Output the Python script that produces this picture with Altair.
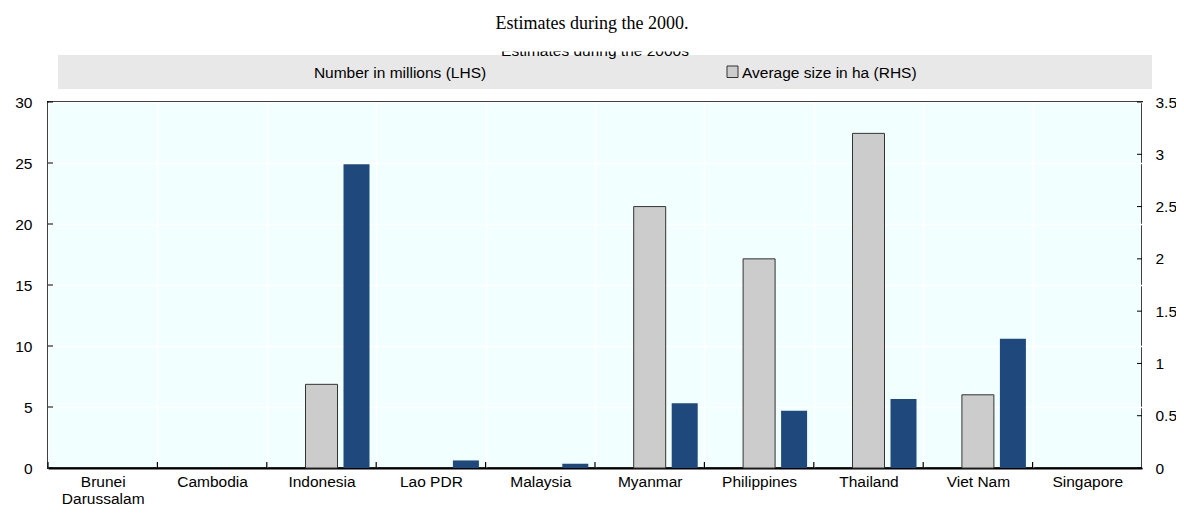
import altair as alt
import pandas as pd

countries = ["Brunei Darussalam", "Cambodia", "Indonesia", "Lao PDR", "Malaysia",
             "Myanmar", "Philippines", "Thailand", "Viet Nam", "Singapore"]
avg_size_ha = [None, None, 0.8, None, None, 2.5, 2.0, 3.2, 0.7, None]      # RHS, grey
number_mn = [None, None, 24.9, 0.62, 0.35, 5.3, 4.7, 5.65, 10.6, None]     # LHS, blue

left_ticks = [0, 5, 10, 15, 20, 25, 30]
right_ticks = [0, 0.5, 1, 1.5, 2, 2.5, 3, 3.5]

title_text = "Estimates during the 2000."
hidden_text = "Estimates during the 2000s"
legend_labels = ["Number in millions (LHS)", "Average size in ha (RHS)"]

SANS = "Liberation Sans, Arial, sans-serif"
SERIF = "Liberation Serif, Times New Roman, serif"
FS = 15.5
W, H = 1094, 366
BAND = W / len(countries)
GREY = "#CCCCCC"
BLUE = "#1F497D"

df = pd.DataFrame({"country": countries, "avg": avg_size_ha, "num": number_mn})
one = pd.DataFrame({"a": [0]})

xscale = alt.Scale(domain=countries, paddingInner=0, paddingOuter=0)

x_axis = alt.Axis(
    title=None, labelAngle=0, tickBand="extent", grid=True, gridColor="white",
    gridWidth=1.5, ticks=False, domain=True, domainColor="black", domainWidth=2,
    labelFont=SANS, labelFontSize=FS, labelColor="black", labelPadding=6,
    labelLineHeight=17,
    labelExpr="datum.label == 'Brunei Darussalam' ? ['Brunei', 'Darussalam'] : datum.label",
)
X = alt.X("country:N", scale=xscale, sort=countries, axis=x_axis)

grey_bars = alt.Chart(df).mark_bar(
    width=32, color=GREY, stroke="#333333", strokeWidth=1
).encode(
    x=X,
    y=alt.Y("avg:Q", scale=alt.Scale(domain=[0, 3.5], nice=False, zero=True),
            axis=alt.Axis(orient="right", values=right_ticks, format="~g", grid=False,
                          ticks=False, domain=False, title=None, labelFont=SANS,
                          labelFontSize=FS, labelColor="black", labelPadding=13)),
)

blue_bars = alt.Chart(df).mark_bar(width=26, xOffset=35, color=BLUE).encode(
    x=X,
    y=alt.Y("num:Q", scale=alt.Scale(domain=[0, 30], nice=False, zero=True),
            axis=alt.Axis(orient="left", values=left_ticks, grid=True, gridColor="white",
                          gridWidth=1.5, ticks=False, domain=False, title=None,
                          labelFont=SANS, labelFontSize=FS, labelColor="black",
                          labelPadding=16)),
)

lt = pd.DataFrame({"v": left_ticks})
left_tick_marks = alt.Chart(lt).mark_rule(color="black", strokeWidth=1).encode(
    y=alt.Y("v:Q", scale=alt.Scale(domain=[0, 30], nice=False), axis=None),
    x=alt.value(0), x2=alt.value(5),
)
rt = pd.DataFrame({"v": right_ticks})
right_tick_marks = alt.Chart(rt).mark_rule(color="black", strokeWidth=1).encode(
    y=alt.Y("v:Q", scale=alt.Scale(domain=[0, 3.5], nice=False), axis=None),
    x=alt.value(W - 5), x2=alt.value(W),
)
bottom_tick_marks = alt.Chart(df).mark_rule(
    color="black", strokeWidth=1.2, xOffset=-BAND / 2
).encode(x=X, y=alt.value(H - 6), y2=alt.value(H))

title_layer = alt.Chart(pd.DataFrame({"t": [title_text]})).mark_text(
    font=SERIF, fontSize=18, align="center", baseline="alphabetic", color="black"
).encode(text="t:N", x=alt.value(544), y=alt.value(-73))

legend_bg = alt.Chart(one).mark_rect(color="#E8E8E8").encode(
    x=alt.value(10), x2=alt.value(1104), y=alt.value(-47), y2=alt.value(-13)
)
hidden_layer = alt.Chart(pd.DataFrame({"t": [hidden_text]})).mark_text(
    font=SANS, fontSize=FS, align="center", baseline="alphabetic", color="black"
).encode(text="t:N", x=alt.value(547), y=alt.value(-46.5))
mask = alt.Chart(one).mark_rect(color="white").encode(
    x=alt.value(400), x2=alt.value(700), y=alt.value(-66), y2=alt.value(-50.5)
)
leg1 = alt.Chart(pd.DataFrame({"t": [legend_labels[0]]})).mark_text(
    font=SANS, fontSize=FS, align="center", baseline="alphabetic", color="black"
).encode(text="t:N", x=alt.value(352), y=alt.value(-24))
swatch = alt.Chart(one).mark_rect(color=GREY, stroke="#333333", strokeWidth=1).encode(
    x=alt.value(679), x2=alt.value(690), y=alt.value(-36), y2=alt.value(-24.5)
)
leg2 = alt.Chart(pd.DataFrame({"t": [legend_labels[1]]})).mark_text(
    font=SANS, fontSize=FS, align="left", baseline="alphabetic", color="black"
).encode(text="t:N", x=alt.value(694), y=alt.value(-24))

chart = alt.layer(
    grey_bars, blue_bars, left_tick_marks, right_tick_marks, bottom_tick_marks,
    title_layer, legend_bg, hidden_layer, mask, leg1, swatch, leg2
).resolve_scale(y="independent").properties(
    width=W, height=H,
    autosize=alt.AutoSizeParams(type="none"),
    padding={"left": 40, "top": 94, "right": 34, "bottom": 38},
    background="white",
).configure_view(fill="#F2FFFF", stroke="black", strokeWidth=2)

chart.save("out.html", embed_options={"renderer": "svg", "actions": False})
